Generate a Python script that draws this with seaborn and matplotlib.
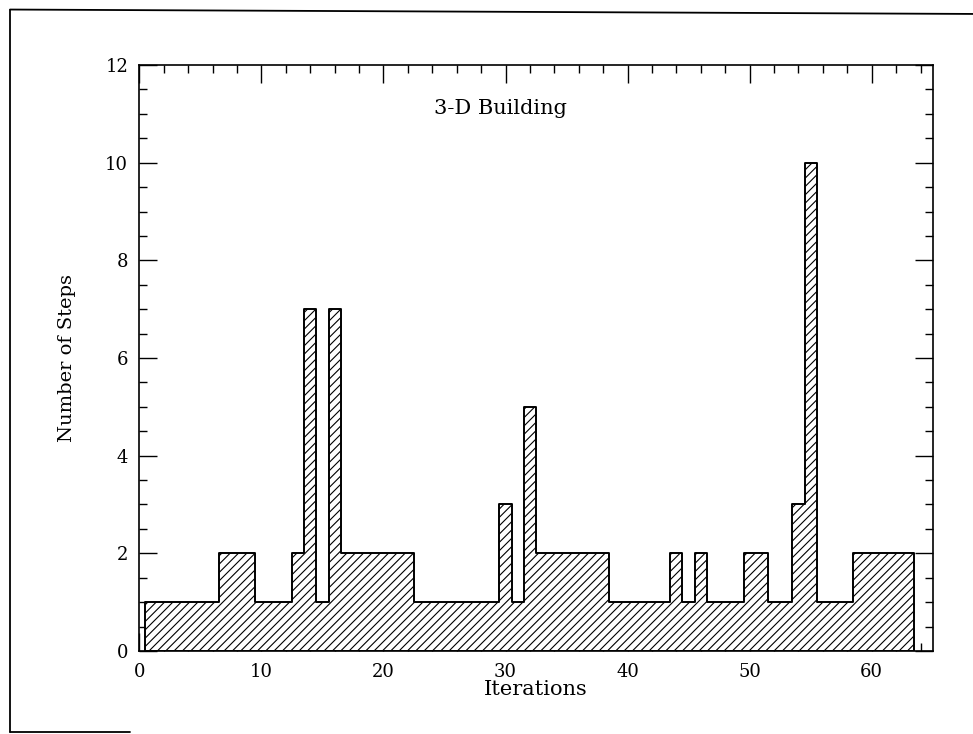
import numpy as np
import pandas as pd
import matplotlib
matplotlib.use("Agg")
import matplotlib.pyplot as plt
import seaborn as sns
from matplotlib.ticker import MultipleLocator
from matplotlib.lines import Line2D

# ---- data ----
iterations = list(range(1, 64))
steps = [1, 1, 1, 1, 1, 1,
         2, 2, 2,
         1, 1, 1,
         2, 7, 1, 7,
         2, 2, 2, 2, 2, 2,
         1, 1, 1, 1, 1, 1, 1,
         3, 1, 5,
         2, 2, 2, 2, 2, 2,
         1, 1, 1, 1, 1,
         2, 1, 2,
         1, 1, 1,
         2, 2,
         1, 1,
         3, 10,
         1, 1, 1,
         2, 2, 2, 2, 2]
x_ticks = [0, 10, 20, 30, 40, 50, 60]
y_ticks = [0, 2, 4, 6, 8, 10, 12]
title_text = "3-D Building"
x_label = "Iterations"
y_label = "Number of Steps"

df = pd.DataFrame({"iteration": iterations, "steps": steps})

sns.set_style("ticks")
plt.rcParams["font.family"] = ["DejaVu Serif"]
plt.rcParams["hatch.linewidth"] = 0.8
plt.rcParams["hatch.color"] = "black"
plt.rcParams["text.color"] = "black"
plt.rcParams["axes.labelcolor"] = "black"
plt.rcParams["xtick.labelcolor"] = "black"
plt.rcParams["ytick.labelcolor"] = "black"

fig = plt.figure(figsize=(9.73, 7.34), dpi=100)
ax = fig.add_axes([0.1432, 0.1131, 0.8154, 0.7983])

sns.histplot(data=df, x="iteration", weights="steps", discrete=True,
             element="step", fill=True, facecolor="white", edgecolor="black",
             hatch="////", linewidth=1.4, alpha=1, ax=ax)

ax.set_xlim(0, 65)
ax.set_ylim(0, 12)
ax.set_xticks(x_ticks)
ax.set_yticks(y_ticks)
ax.xaxis.set_minor_locator(MultipleLocator(2))
ax.yaxis.set_minor_locator(MultipleLocator(0.5))
ax.tick_params(which="both", direction="in", top=True, right=True,
               color="black", width=1.0)
ax.tick_params(which="major", length=13, labelsize=13, pad=8,
               labelcolor="black")
ax.tick_params(which="minor", length=6)
ax.tick_params(axis="x", which="major", pad=9)
for sp in ax.spines.values():
    sp.set_linewidth(1.2)
    sp.set_color("black")

ax.set_xlabel(x_label, fontsize=15, color="black")
ax.set_ylabel(y_label, fontsize=14, color="black")
ax.xaxis.set_label_coords(0.5, -0.05)
ax.yaxis.set_label_coords(-0.08, 0.5)

ax.text(29.6, 11.1, title_text, ha="center", va="center", fontsize=15,
        color="black")

# outer frame (left, top, partial bottom)
fig.add_artist(Line2D([0.0103, 0.0103], [0.003, 0.987], transform=fig.transFigure,
                      color="black", lw=1.3))
fig.add_artist(Line2D([0.0103, 1.0], [0.987, 0.981], transform=fig.transFigure,
                      color="black", lw=1.3))
fig.add_artist(Line2D([0.0103, 0.134], [0.003, 0.003], transform=fig.transFigure,
                      color="black", lw=1.3))

fig.savefig("out.png", dpi=100)
